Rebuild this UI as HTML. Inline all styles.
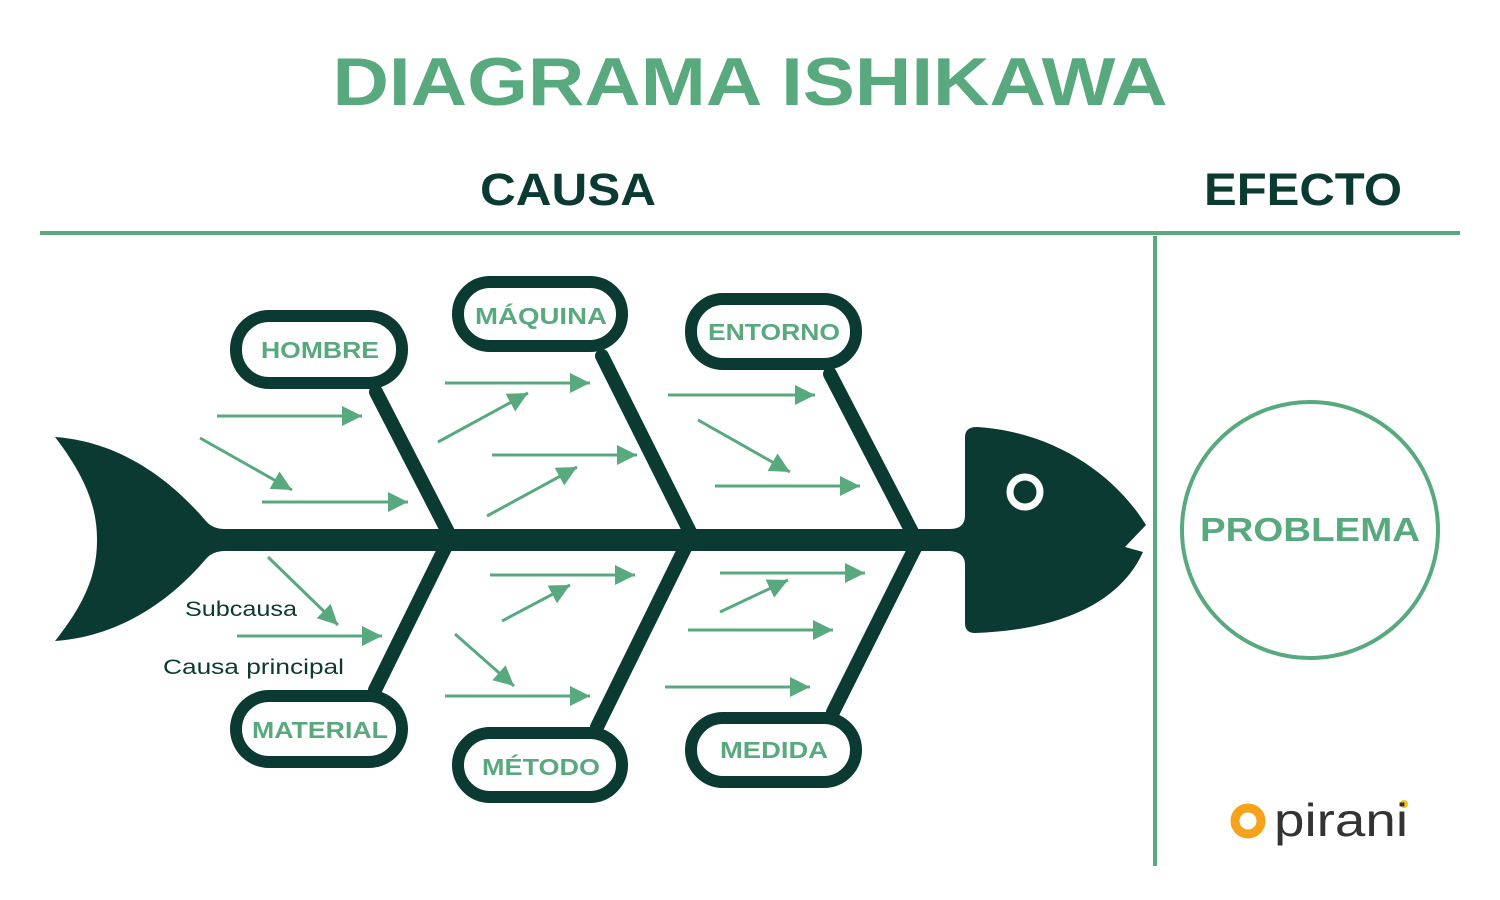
<!DOCTYPE html>
<html><head><meta charset="utf-8"><style>
html,body{margin:0;padding:0;background:#fff}
svg{display:block}
text{font-family:"Liberation Sans",Arial,sans-serif}
</style></head><body>
<svg width="1500" height="900" viewBox="0 0 1500 900" xmlns="http://www.w3.org/2000/svg">
<defs>
<marker id="ahb" viewBox="0 0 10 10" refX="10" refY="5" markerWidth="30" markerHeight="20" orient="auto" markerUnits="userSpaceOnUse">
<path d="M0,0 L10,5 L0,10 Z" fill="#58a97e"/>
</marker>
</defs>
<text x="750" y="105" font-size="68" fill="#58a97e" text-anchor="middle" textLength="835" lengthAdjust="spacingAndGlyphs" style="font-weight:900">DIAGRAMA ISHIKAWA</text>
<text x="568" y="205" font-size="45" fill="#0b3a32" text-anchor="middle" textLength="176" lengthAdjust="spacingAndGlyphs" style="font-weight:bold">CAUSA</text>
<text x="1303" y="205" font-size="45" fill="#0b3a32" text-anchor="middle" textLength="198" lengthAdjust="spacingAndGlyphs" style="font-weight:bold">EFECTO</text>
<rect x="40" y="231" width="1420" height="4" fill="#58a97e"/>
<rect x="1153" y="236" width="4" height="630" fill="#58a97e"/>
<circle cx="1310" cy="530" r="128" fill="none" stroke="#58a97e" stroke-width="4"/>
<text x="1310" y="541" font-size="33" fill="#58a97e" text-anchor="middle" textLength="220" lengthAdjust="spacingAndGlyphs" style="font-weight:bold">PROBLEMA</text>

<g fill="#0b3a32">
<path d="M55,437 C125,442 175,485 205,520 Q212,529 225,529 L225,551 Q212,551 205,560 C175,595 125,636 55,641 C88,600 97,570 97,540 C97,510 88,480 55,437 Z"/>
<rect x="215" y="529" width="760" height="22"/>
<path d="M965,437 Q965,427 977,427 C1055,432 1115,475 1146,525 L1125,547 L1143,552 C1120,603 1060,630 975,633 Q965,633 965,623 L965,565 Q965,552 950,551 L930,551 L930,529 L950,529 Q965,529 965,515 Z"/>
</g>
<circle cx="1025" cy="492" r="15" fill="#0b3a32" stroke="#fff" stroke-width="7"/>

<g stroke="#0b3a32" stroke-width="14" stroke-linecap="round" fill="none">
<line x1="448" y1="532" x2="376" y2="392"/>
<line x1="690" y1="532" x2="602" y2="356"/>
<line x1="912" y1="532" x2="830" y2="374"/>
<line x1="445" y1="548" x2="375" y2="690"/>
<line x1="685" y1="548" x2="597" y2="727"/>
<line x1="915" y1="548" x2="833" y2="712"/>
</g>
<g stroke="#0b3a32" stroke-width="12" fill="#fff">
<rect x="236" y="316" width="166" height="67" rx="33"/>
<rect x="458" y="282" width="164" height="64" rx="32"/>
<rect x="691" y="299" width="165" height="65" rx="32"/>
<rect x="236" y="696" width="166" height="66" rx="33"/>
<rect x="458" y="733" width="164" height="64" rx="32"/>
<rect x="691" y="718" width="165" height="64" rx="32"/>
</g>
<g fill="#58a97e" font-size="23" text-anchor="middle" style="font-weight:bold">
<text x="320" y="358" textLength="118" lengthAdjust="spacingAndGlyphs">HOMBRE</text>
<text x="541" y="324" textLength="132" lengthAdjust="spacingAndGlyphs">MÁQUINA</text>
<text x="774" y="340" textLength="132" lengthAdjust="spacingAndGlyphs">ENTORNO</text>
<text x="320" y="738" textLength="136" lengthAdjust="spacingAndGlyphs">MATERIAL</text>
<text x="541" y="775" textLength="118" lengthAdjust="spacingAndGlyphs">MÉTODO</text>
<text x="774" y="758" textLength="108" lengthAdjust="spacingAndGlyphs">MEDIDA</text>
</g>

<g stroke="#58a97e" stroke-width="3" marker-end="url(#ahb)">
<line x1="217" y1="416" x2="362" y2="416"/>
<line x1="200" y1="438" x2="292" y2="490"/>
<line x1="262" y1="502" x2="408" y2="502"/>
<line x1="445" y1="383" x2="590" y2="383"/>
<line x1="438" y1="442" x2="528" y2="393"/>
<line x1="492" y1="455" x2="637" y2="455"/>
<line x1="487" y1="516" x2="577" y2="467"/>
<line x1="668" y1="395" x2="815" y2="395"/>
<line x1="698" y1="420" x2="790" y2="472"/>
<line x1="715" y1="486" x2="860" y2="486"/>
<line x1="268" y1="557" x2="338" y2="625"/>
<line x1="237" y1="636" x2="382" y2="636"/>
<line x1="490" y1="575" x2="635" y2="575"/>
<line x1="502" y1="621" x2="570" y2="585"/>
<line x1="455" y1="634" x2="514" y2="686"/>
<line x1="445" y1="696" x2="590" y2="696"/>
<line x1="720" y1="573" x2="865" y2="573"/>
<line x1="720" y1="612" x2="788" y2="580"/>
<line x1="688" y1="630" x2="833" y2="630"/>
<line x1="665" y1="687" x2="810" y2="687"/>
</g>
<text x="185" y="616" font-size="21" fill="#0b3a32" style="font-weight:normal" textLength="112" lengthAdjust="spacingAndGlyphs">Subcausa</text>
<text x="163" y="674" font-size="21" fill="#0b3a32" style="font-weight:normal" textLength="181" lengthAdjust="spacingAndGlyphs">Causa principal</text>

<circle cx="1248" cy="821" r="13" fill="none" stroke="#f7a21b" stroke-width="9"/>
<circle cx="1404" cy="804" r="4" fill="#f7c21b"/>
<text x="1274" y="836" font-size="46" fill="#333" style="font-weight:normal" textLength="134" lengthAdjust="spacingAndGlyphs">pirani</text>
</svg>
</body></html>
